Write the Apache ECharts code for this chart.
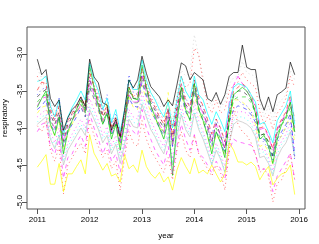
<!DOCTYPE html>
<html>
<head>
<meta charset="utf-8">
<script src="https://cdn.jsdelivr.net/npm/echarts@6/dist/echarts.min.js"></script>
<style>
html,body{margin:0;padding:0;background:#fff;}
#c{width:319px;height:244px;}
</style>
</head>
<body>
<div id="c"></div>
<script>
// ---- data ----
const xTickLabels = [2011, 2012, 2013, 2014, 2015, 2016];
const yTickLabels = [-5.0, -4.5, -4.0, -3.5, -3.0];
const startYear = 2011;
const nMonths = 60;

const blackSolid = [-3.07,-3.28,-3.21,-3.60,-3.71,-3.62,-4.03,-3.86,-3.75,-3.69,-3.58,-3.71,-3.07,-3.31,-3.39,-3.66,-3.69,-4.03,-3.89,-4.12,-3.76,-3.35,-3.46,-3.35,-3.03,-3.26,-3.44,-3.51,-3.58,-3.71,-3.62,-3.70,-3.42,-3.12,-3.16,-3.35,-3.25,-3.30,-3.35,-3.60,-3.64,-3.52,-3.68,-3.55,-3.30,-3.25,-3.25,-2.88,-3.18,-3.21,-3.21,-3.60,-3.76,-3.58,-3.78,-3.55,-3.51,-3.46,-3.11,-3.28];
const yellowSolid = [-4.53,-4.45,-4.36,-4.76,-4.76,-4.48,-4.86,-4.62,-4.62,-4.52,-4.43,-4.62,-4.09,-4.34,-4.45,-4.57,-4.48,-4.65,-4.62,-4.73,-4.36,-4.55,-4.50,-4.60,-4.30,-4.52,-4.62,-4.68,-4.60,-4.73,-4.66,-4.84,-4.57,-4.40,-4.52,-4.62,-4.41,-4.61,-4.57,-4.62,-4.50,-4.62,-4.73,-4.62,-4.20,-4.30,-4.46,-4.46,-4.50,-4.46,-4.52,-4.70,-4.60,-4.52,-4.77,-4.68,-4.62,-4.60,-4.50,-4.90];
const redLow = [-3.97,-4.05,-3.90,-4.30,-4.45,-4.25,-4.89,-4.50,-4.40,-4.30,-4.20,-4.35,-3.90,-4.10,-4.25,-4.40,-4.30,-4.55,-4.45,-4.84,-4.40,-4.05,-4.20,-4.25,-3.90,-4.15,-4.30,-4.40,-4.50,-4.60,-4.40,-4.70,-4.30,-4.05,-4.30,-4.40,-4.10,-4.35,-4.45,-4.55,-4.65,-4.50,-4.60,-4.84,-4.30,-3.70,-3.95,-4.05,-4.10,-4.20,-4.35,-4.60,-4.55,-4.65,-5.00,-4.75,-4.70,-4.55,-4.35,-4.70];
const magentaLow = [-4.05,-3.95,-3.92,-4.25,-4.35,-4.15,-4.68,-4.40,-4.35,-4.20,-4.10,-4.25,-3.80,-4.00,-4.15,-4.35,-4.20,-4.45,-4.35,-4.60,-4.30,-3.95,-4.05,-4.10,-3.75,-4.00,-4.15,-4.30,-4.40,-4.50,-4.25,-4.62,-4.25,-3.95,-4.15,-4.30,-4.09,-4.34,-4.40,-4.50,-4.61,-4.45,-4.55,-4.70,-4.30,-4.15,-4.19,-4.20,-4.22,-4.23,-4.35,-4.57,-4.55,-4.62,-4.86,-4.65,-4.55,-4.45,-4.34,-4.70];
const grayHigh = [-3.20,-3.32,-3.30,-3.65,-3.78,-3.65,-4.05,-3.88,-3.78,-3.70,-3.60,-3.72,-3.15,-3.38,-3.48,-3.70,-3.66,-3.98,-3.85,-4.08,-3.78,-3.40,-3.50,-3.45,-3.12,-3.35,-3.52,-3.60,-3.68,-3.80,-3.68,-3.88,-3.55,-3.22,-3.30,-3.25,-2.74,-3.05,-3.30,-3.60,-3.70,-3.55,-3.72,-3.65,-3.40,-3.32,-3.30,-3.10,-3.25,-3.28,-3.30,-3.65,-3.85,-3.70,-3.90,-3.68,-3.62,-3.55,-3.22,-3.35];
const redHigh = [-3.30,-3.42,-3.38,-3.72,-3.85,-3.72,-4.10,-3.92,-3.82,-3.72,-3.62,-3.75,-3.22,-3.42,-3.55,-3.78,-3.72,-4.02,-3.88,-4.12,-3.82,-3.45,-3.58,-3.52,-3.18,-3.40,-3.58,-3.68,-3.78,-3.90,-3.72,-3.98,-3.62,-3.30,-3.45,-3.40,-2.92,-3.00,-3.38,-3.68,-3.80,-3.62,-3.80,-3.75,-3.50,-3.42,-3.38,-3.25,-3.35,-3.40,-3.45,-3.78,-3.95,-3.82,-4.02,-3.80,-3.72,-3.60,-3.30,-3.45];
const greenSolid = [-3.72,-3.60,-3.50,-3.95,-4.10,-3.85,-4.35,-4.05,-3.90,-3.75,-3.62,-3.78,-3.15,-3.45,-3.70,-3.95,-3.80,-4.15,-3.95,-4.30,-3.95,-3.45,-3.60,-3.62,-3.15,-3.45,-3.70,-3.85,-4.00,-4.15,-3.90,-4.64,-3.95,-3.45,-3.75,-3.90,-3.40,-3.75,-3.90,-4.10,-4.35,-4.05,-4.20,-4.40,-3.90,-3.55,-3.50,-3.45,-3.50,-3.60,-3.80,-4.15,-4.10,-4.25,-4.48,-4.15,-3.95,-3.85,-3.65,-4.05];
const cyanSolid = [-3.37,-3.35,-3.30,-3.70,-3.85,-3.62,-4.10,-3.85,-3.72,-3.62,-3.50,-3.62,-3.12,-3.35,-3.50,-3.75,-3.60,-3.92,-3.75,-4.05,-3.75,-3.35,-3.48,-3.48,-3.08,-3.35,-3.52,-3.62,-3.75,-3.85,-3.65,-4.00,-3.62,-3.30,-3.50,-3.60,-3.30,-3.55,-3.62,-3.80,-3.95,-3.78,-3.90,-4.05,-3.70,-3.45,-3.40,-3.42,-3.45,-3.55,-3.65,-3.95,-3.92,-4.05,-4.20,-3.90,-3.80,-3.70,-3.50,-3.95];
const blueDashed = [-3.75,-3.70,-3.62,-3.95,-4.05,-3.85,-4.25,-4.05,-3.95,-3.85,-3.72,-3.85,-3.45,-3.60,-3.75,-3.95,-3.82,-4.10,-3.95,-4.22,-3.95,-3.60,-3.70,-3.72,-3.38,-3.58,-3.75,-3.88,-4.00,-4.10,-3.88,-4.25,-3.88,-3.55,-3.78,-3.88,-3.50,-3.75,-3.90,-4.08,-4.25,-4.05,-4.18,-4.35,-3.92,-3.75,-3.70,-3.72,-3.75,-3.82,-3.92,-4.15,-4.15,-4.25,-4.40,-4.15,-4.05,-3.95,-3.80,-4.38];
const blueDotted = [-3.55,-3.48,-3.45,-3.80,-3.90,-3.58,-4.05,-3.90,-3.80,-3.70,-3.60,-3.70,-3.30,-3.45,-3.60,-3.80,-3.55,-3.95,-3.80,-4.05,-3.80,-3.28,-3.52,-3.55,-3.25,-3.45,-3.60,-3.72,-3.85,-3.95,-3.75,-4.10,-3.70,-3.40,-3.60,-3.70,-3.35,-3.60,-3.72,-3.90,-4.10,-3.88,-4.02,-4.20,-3.78,-3.55,-3.62,-3.68,-3.70,-3.78,-3.88,-4.12,-4.20,-4.28,-4.45,-4.20,-4.10,-4.00,-3.85,-4.45];
const redDashed = [-3.49,-3.38,-3.40,-3.75,-3.90,-3.70,-4.10,-3.90,-3.80,-3.70,-3.58,-3.70,-3.25,-3.45,-3.62,-3.82,-3.70,-3.98,-3.85,-4.10,-3.82,-3.45,-3.58,-3.58,-3.22,-3.45,-3.62,-3.72,-3.85,-3.95,-3.75,-4.10,-3.72,-3.40,-3.62,-3.72,-3.35,-3.58,-3.70,-3.88,-4.08,-3.88,-4.00,-4.18,-3.78,-3.50,-3.45,-3.40,-3.45,-3.55,-3.70,-4.00,-3.98,-4.10,-4.28,-4.00,-3.88,-3.78,-3.55,-3.90];
const magentaDotted = [-3.85,-3.80,-3.75,-4.05,-4.20,-4.00,-4.40,-4.20,-4.08,-3.98,-3.88,-4.00,-3.60,-3.75,-3.90,-4.10,-3.98,-4.25,-4.10,-4.38,-4.10,-3.75,-3.85,-3.88,-3.52,-3.72,-3.90,-4.02,-4.15,-4.25,-4.02,-4.42,-4.00,-3.70,-3.92,-4.02,-3.65,-3.90,-4.05,-4.22,-4.42,-4.20,-4.35,-4.52,-4.08,-3.82,-3.78,-3.78,-3.80,-3.88,-4.00,-4.30,-4.28,-4.40,-4.58,-4.28,-4.18,-4.08,-3.92,-4.30];
const magentaSolid = [-3.70,-3.60,-3.58,-3.88,-4.00,-3.82,-4.18,-4.00,-3.90,-3.80,-3.68,-3.80,-3.35,-3.55,-3.72,-3.90,-3.78,-4.05,-3.92,-4.18,-3.90,-3.55,-3.65,-3.65,-3.30,-3.52,-3.70,-3.80,-3.95,-4.05,-3.80,-4.22,-3.78,-3.48,-3.70,-3.80,-3.45,-3.68,-3.80,-3.98,-4.18,-3.95,-4.10,-4.28,-3.65,-3.42,-3.30,-3.40,-3.50,-3.58,-3.72,-4.02,-4.00,-4.12,-4.30,-4.02,-3.90,-3.80,-3.62,-4.00];
const greenDashed = [-3.65,-3.58,-3.55,-3.90,-4.02,-3.82,-4.22,-4.02,-3.90,-3.78,-3.68,-3.80,-3.42,-3.55,-3.72,-3.90,-3.80,-4.08,-3.92,-4.20,-3.92,-3.55,-3.66,-3.66,-3.35,-3.55,-3.72,-3.82,-3.96,-4.06,-3.82,-4.25,-3.82,-3.52,-3.74,-3.82,-3.48,-3.72,-3.85,-4.02,-4.22,-4.00,-4.15,-4.32,-3.88,-3.62,-3.58,-3.58,-3.58,-3.66,-3.80,-4.10,-4.08,-4.18,-4.36,-4.08,-3.96,-3.88,-3.72,-4.10];
const cyanDotted = [-3.92,-3.85,-3.82,-4.12,-4.25,-4.08,-4.45,-4.25,-4.15,-4.05,-3.95,-4.05,-3.70,-3.82,-3.98,-4.15,-4.05,-4.30,-4.18,-4.42,-4.18,-3.82,-3.92,-3.95,-3.62,-3.80,-3.98,-4.08,-4.22,-4.30,-4.08,-4.48,-4.08,-3.78,-3.98,-4.08,-3.75,-3.98,-4.10,-4.28,-4.48,-4.25,-4.40,-4.58,-4.15,-3.90,-3.85,-3.85,-3.88,-3.95,-4.08,-4.35,-4.32,-4.45,-4.62,-4.35,-4.22,-4.15,-4.00,-4.35];
const blackDashed = [-3.58,-3.52,-3.48,-3.82,-3.95,-3.78,-4.18,-3.95,-3.85,-3.74,-3.62,-3.74,-3.35,-3.50,-3.66,-3.85,-3.74,-4.02,-3.86,-4.15,-3.86,-3.50,-3.60,-3.60,-3.28,-3.48,-3.66,-3.76,-3.90,-4.00,-3.76,-4.18,-3.76,-3.45,-3.68,-3.76,-3.40,-3.66,-3.78,-3.96,-4.18,-3.94,-4.10,-4.28,-3.82,-3.55,-3.50,-3.50,-3.55,-3.62,-3.78,-4.10,-4.08,-4.20,-4.38,-4.05,-3.92,-3.82,-3.66,-4.05];
const yellowDashed = [-3.80,-3.72,-3.70,-3.98,-4.10,-3.92,-4.30,-4.08,-3.95,-3.80,-3.70,-3.85,-3.45,-3.62,-3.78,-3.95,-3.65,-4.05,-3.92,-4.25,-3.95,-3.58,-3.72,-3.75,-3.42,-3.62,-3.78,-3.88,-3.98,-4.08,-3.52,-4.15,-3.85,-3.55,-3.78,-3.90,-3.55,-3.80,-3.92,-4.10,-4.30,-4.08,-4.20,-4.38,-3.92,-3.62,-3.62,-3.65,-3.70,-3.78,-3.95,-4.25,-4.22,-4.32,-4.50,-4.20,-4.10,-3.98,-3.82,-4.20];
const graySolid = [-3.95,-3.90,-3.85,-4.15,-4.28,-4.10,-4.50,-4.30,-4.20,-4.10,-4.00,-4.10,-3.75,-3.88,-4.02,-4.20,-4.10,-4.35,-4.22,-4.48,-4.22,-3.88,-3.98,-4.00,-3.68,-3.85,-4.02,-4.12,-4.25,-4.35,-4.12,-4.50,-4.12,-3.82,-4.02,-4.12,-3.80,-4.02,-4.15,-4.32,-4.50,-4.30,-4.42,-4.60,-4.20,-3.95,-3.90,-3.92,-3.95,-4.00,-4.12,-4.40,-4.38,-4.48,-4.65,-4.40,-4.28,-4.20,-4.05,-4.40];

// ---- chart ----
const time = [];
for (let i = 0; i < nMonths; i++) time.push(startYear + i / 12);

const LTY = {solid: 'solid', dashed: [4, 4], dotted: [1, 3], dotdash: [1, 3, 4, 3], longdash: [7, 3]};
const defs = [
  [graySolid, '#BEBEBE', 'solid'],
  [cyanDotted, '#00FFFF', 'dotted'],
  [magentaDotted, '#FF00FF', 'dotted'],
  [yellowDashed, '#FFFF00', 'dashed'],
  [blueDashed, '#0000FF', 'dashed'],
  [greenDashed, '#00CD00', 'dashed'],
  [blackDashed, '#000000', 'dashed'],
  [magentaSolid, '#FF00FF', 'longdash'],
  [blueDotted, '#0000FF', 'dotted'],
  [redDashed, '#FF0000', 'dashed'],
  [greenSolid, '#00CD00', 'solid'],
  [cyanSolid, '#00FFFF', 'solid'],
  [magentaLow, '#FF00FF', 'dashed'],
  [redLow, '#FF0000', 'dotted'],
  [grayHigh, '#BEBEBE', 'dotted'],
  [redHigh, '#FF0000', 'dotted'],
  [yellowSolid, '#FFFF00', 'solid'],
  [blackSolid, '#000000', 'solid']
];

const xMin = 2011 - 0.04 * (59 / 12), xMax = 2011 + 59 / 12 + 0.04 * (59 / 12);

const chart = echarts.init(document.getElementById('c'), null, {renderer: 'canvas'});
chart.setOption({
  animation: false,
  backgroundColor: '#ffffff',
  grid: {left: 27, right: 14, top: 27, bottom: 35, show: true, borderColor: '#555', borderWidth: 1, backgroundColor: 'transparent'},
  xAxis: {
    type: 'value', min: xMin, max: xMax,
    splitLine: {show: false},
    axisLine: {show: false},
    axisTick: {show: true, customValues: xTickLabels, length: 5, lineStyle: {color: '#555'}},
    axisLabel: {customValues: xTickLabels, formatter: v => String(v), color: '#000', fontSize: 8, fontFamily: 'Liberation Sans', margin: 7}
  },
  yAxis: {
    type: 'value', min: -5.095, max: -2.635,
    splitLine: {show: false},
    axisLine: {show: false},
    axisTick: {show: true, customValues: yTickLabels, length: 5, lineStyle: {color: '#555'}},
    axisLabel: {customValues: yTickLabels, formatter: v => v.toFixed(1), color: '#000', fontSize: 8, fontFamily: 'Liberation Sans', rotate: 90, margin: 3}
  },
  graphic: [
    {type: 'text', x: 166, y: 236, style: {text: 'year', fontSize: 8, fontFamily: 'Liberation Sans', fill: '#000', align: 'center', verticalAlign: 'middle'}},
    {type: 'text', x: 5, y: 118, rotation: Math.PI / 2, style: {text: 'respiratory', fontSize: 8, fontFamily: 'Liberation Sans', fill: '#000', align: 'center', verticalAlign: 'middle'}}
  ],
  series: defs.map(d => ({
    type: 'line',
    symbol: 'none',
    silent: true,
    data: d[0].map((v, i) => [time[i], v]),
    lineStyle: {color: d[1], width: 0.8, type: LTY[d[2]], opacity: d[2] === 'solid' ? 0.85 : 0.7}
  }))
});
</script>
</body>
</html>
